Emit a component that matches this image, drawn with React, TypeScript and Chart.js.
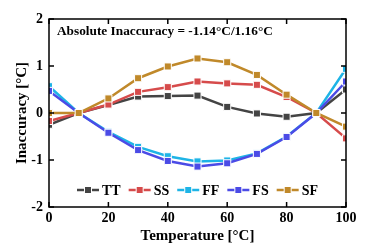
import React, { useEffect, useRef } from 'react';
import { Chart, registerables } from 'chart.js';

Chart.register(...registerables);

const temperatures = [0, 10, 20, 30, 40, 50, 60, 70, 80, 90, 100];
const seriesNames = ['TT', 'SS', 'FF', 'FS', 'SF'];
const ttValues = [-0.25, 0, 0.17, 0.35, 0.36, 0.37, 0.13, -0.01, -0.08, 0, 0.5];
const ssValues = [-0.17, 0, 0.18, 0.45, 0.55, 0.67, 0.63, 0.6, 0.34, 0, -0.54];
const ffValues = [0.57, 0, -0.4, -0.72, -0.92, -1.03, -1.01, -0.86, -0.5, 0, 0.94];
const fsValues = [0.47, 0, -0.42, -0.79, -1.02, -1.14, -1.07, -0.87, -0.51, 0, 0.67];
const sfValues = [0.0, 0, 0.31, 0.74, 0.99, 1.16, 1.08, 0.81, 0.39, 0, -0.29];
const seriesColors = ['#444444', '#d64b4b', '#1eb4e6', '#4b4be6', '#c0892a'];
const xTickValues = [0, 20, 40, 60, 80, 100];
const yTickValues = [-2, -1, 0, 1, 2];
const annotationText = 'Absolute Inaccuracy = -1.14°C/1.16°C';
const xTitle = 'Temperature [°C]';
const yTitle = 'Inaccuracy [°C]';

const FONT = "'Liberation Serif', 'Times New Roman', serif";

const framePlugin = {
  id: 'frame',
  afterDatasetsDraw(chart: any) {
    const { ctx, chartArea: a, scales } = chart;
    ctx.save();
    ctx.strokeStyle = '#000';
    ctx.lineWidth = 1.5;
    ctx.strokeRect(a.left, a.top, a.right - a.left, a.bottom - a.top);
    const tl = 5;
    ctx.beginPath();
    xTickValues.forEach((v) => {
      const x = scales.x.getPixelForValue(v);
      ctx.moveTo(x, a.bottom);
      ctx.lineTo(x, a.bottom - tl);
      ctx.moveTo(x, a.top);
      ctx.lineTo(x, a.top + tl);
    });
    yTickValues.forEach((v) => {
      const y = scales.y.getPixelForValue(v);
      ctx.moveTo(a.left, y);
      ctx.lineTo(a.left + tl, y);
      ctx.moveTo(a.right, y);
      ctx.lineTo(a.right - tl, y);
    });
    ctx.stroke();

    // annotation
    ctx.fillStyle = '#000';
    ctx.font = `bold 13.3px ${FONT}`;
    ctx.textAlign = 'left';
    ctx.textBaseline = 'middle';
    ctx.fillText(annotationText, a.left + 8, a.top + 13);

    // legend
    const sym = 22;
    const gap = 3;
    const itemGap = 8;
    ctx.font = `bold 14px ${FONT}`;
    const widths = chart.data.datasets.map((d: any) => sym + gap + ctx.measureText(d.label).width);
    const total = widths.reduce((s: number, w: number) => s + w, 0) + itemGap * (widths.length - 1);
    let x = (a.left + a.right) / 2 - total / 2;
    const y = a.bottom - 17;
    chart.data.datasets.forEach((d: any, i: number) => {
      ctx.strokeStyle = d.borderColor;
      ctx.lineWidth = 2.5;
      ctx.beginPath();
      ctx.moveTo(x, y);
      ctx.lineTo(x + sym, y);
      ctx.stroke();
      ctx.fillStyle = d.borderColor;
      ctx.strokeStyle = '#fff';
      ctx.lineWidth = 1;
      ctx.fillRect(x + sym / 2 - 3.5, y - 3.5, 7, 7);
      ctx.strokeRect(x + sym / 2 - 3.5, y - 3.5, 7, 7);
      ctx.fillStyle = '#000';
      ctx.textAlign = 'left';
      ctx.fillText(d.label, x + sym + gap, y + 1);
      x += widths[i] + itemGap;
    });
    ctx.restore();
  },
};

export default function App() {
  const ref = useRef<HTMLCanvasElement | null>(null);
  useEffect(() => {
    document.body.style.margin = '0';
    const seriesValues = [ttValues, ssValues, ffValues, fsValues, sfValues];
    const chart = new Chart(ref.current as HTMLCanvasElement, {
      type: 'line',
      data: {
        datasets: seriesNames.map((name, i) => ({
          label: name,
          data: temperatures.map((t, j) => ({ x: t, y: seriesValues[i][j] })),
          borderColor: seriesColors[i],
          backgroundColor: seriesColors[i],
          pointBackgroundColor: seriesColors[i],
          pointBorderColor: '#ffffff',
          pointBorderWidth: 1,
          pointStyle: 'rect',
          pointRadius: 5,
          borderWidth: 2.5,
          tension: 0,
          order: seriesNames.length - i,
        })),
      },
      options: {
        animation: false,
        responsive: false,
        maintainAspectRatio: false,
        layout: { padding: { top: 19, right: 36, left: 0, bottom: 0 } },
        plugins: { legend: { display: false }, tooltip: { enabled: false } },
        scales: {
          x: {
            type: 'linear',
            min: 0,
            max: 100,
            afterBuildTicks: (s: any) => {
              s.ticks = xTickValues.map((v) => ({ value: v }));
            },
            ticks: {
              color: '#000',
              font: { family: FONT, size: 14, weight: 'bold' },
              padding: 3,
              callback: (v: any) => String(v),
            },
            grid: { display: false, drawTicks: false },
            border: { display: false },
            title: {
              display: true,
              text: xTitle,
              color: '#000',
              font: { family: FONT, size: 15, weight: 'bold' },
              padding: { top: 0, bottom: 0 },
            },
            afterFit: (s: any) => {
              s.height = 38;
            },
          },
          y: {
            type: 'linear',
            min: -2,
            max: 2,
            afterBuildTicks: (s: any) => {
              s.ticks = yTickValues.map((v) => ({ value: v }));
            },
            ticks: {
              color: '#000',
              font: { family: FONT, size: 14, weight: 'bold' },
              padding: 6,
              callback: (v: any) => String(v),
            },
            grid: { display: false, drawTicks: false },
            border: { display: false },
            title: {
              display: true,
              text: yTitle,
              color: '#000',
              font: { family: FONT, size: 15, weight: 'bold' },
              padding: { top: 13, bottom: 0 },
            },
            afterFit: (s: any) => {
              s.width = 49;
            },
          },
        },
      },
      plugins: [framePlugin],
    } as any);
    return () => chart.destroy();
  }, []);
  return (
    <div style={{ position: 'absolute', left: 0, top: 0, width: 382, height: 245, background: '#fff' }}>
      <canvas ref={ref} width={382} height={245} style={{ display: 'block' }} />
    </div>
  );
}
